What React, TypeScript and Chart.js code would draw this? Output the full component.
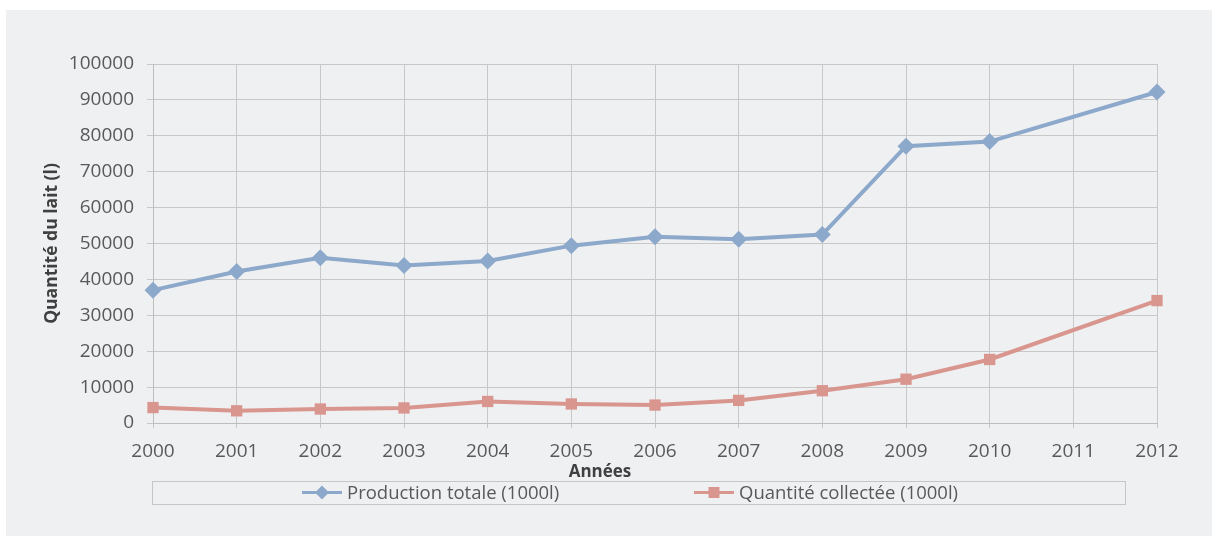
import React, { useEffect, useRef } from "react";
import { Chart, registerables } from "chart.js";

Chart.register(...registerables);

const years = ["2000", "2001", "2002", "2003", "2004", "2005", "2006", "2007", "2008", "2009", "2010", "2011", "2012"];
const productionTotale = [37000, 42200, 46000, 43900, 45100, 49400, 51900, 51200, 52500, 77100, 78400, null, 92200];
const quantiteCollectee = [4300, 3400, 3900, 4200, 6000, 5300, 5000, 6300, 9000, 12200, 17700, null, 34100];
const seriesNames = ["Production totale (1000l)", "Quantité collectée (1000l)"];
const yTitle = "Quantité du lait (l)";
const xTitle = "Années";

const BLUE = "#8ca8ca";
const RED = "#d9968e";
const FONT = "'Open Sans', 'Noto Sans', sans-serif";

const legendBoxPlugin = {
  id: "legendBox",
  afterDraw(chart: any, _args: any, opts: any) {
    const ctx = chart.ctx as CanvasRenderingContext2D;
    const { left, right, top, bottom, itemX, titleX, titleY } = opts;
    ctx.save();
    // x-axis title
    ctx.fillStyle = "#404040";
    ctx.font = `bold 17px ${FONT}`;
    ctx.textAlign = "center";
    ctx.textBaseline = "middle";
    ctx.fillText(xTitle, titleX, titleY);
    // legend box
    ctx.strokeStyle = "#c6c6c6";
    ctx.lineWidth = 1;
    ctx.strokeRect(left + 0.5, top + 0.5, right - left, bottom - top);
    const cy = (top + bottom) / 2;
    chart.data.datasets.forEach((ds: any, i: number) => {
      const x = itemX[i];
      ctx.strokeStyle = ds.borderColor;
      ctx.lineWidth = 3;
      ctx.beginPath();
      ctx.moveTo(x, cy);
      ctx.lineTo(x + 40, cy);
      ctx.stroke();
      ctx.fillStyle = ds.pointBackgroundColor;
      const mx = x + 20;
      if (ds.pointStyle === "rectRot") {
        const r = 7;
        ctx.beginPath();
        ctx.moveTo(mx, cy - r);
        ctx.lineTo(mx + r, cy);
        ctx.lineTo(mx, cy + r);
        ctx.lineTo(mx - r, cy);
        ctx.closePath();
        ctx.fill();
      } else {
        const s = 5.5;
        ctx.fillRect(mx - s, cy - s, 2 * s, 2 * s);
      }
      ctx.fillStyle = "#595959";
      ctx.font = `18.5px ${FONT}`;
      ctx.textBaseline = "middle";
      ctx.textAlign = "left";
      ctx.fillText(ds.label, x + 45, cy + 1);
    });
    ctx.restore();
  },
};

export default function App() {
  const canvasRef = useRef<HTMLCanvasElement | null>(null);

  useEffect(() => {
    if (!canvasRef.current) return;
    const chart = new Chart(canvasRef.current, {
      type: "line",
      data: {
        labels: years,
        datasets: [
          {
            label: seriesNames[0],
            data: productionTotale,
            borderColor: BLUE,
            backgroundColor: BLUE,
            pointBackgroundColor: BLUE,
            pointBorderColor: BLUE,
            pointStyle: "rectRot",
            pointRadius: 8.5,
            pointBorderWidth: 0,
            borderWidth: 4,
            tension: 0,
            spanGaps: true,
          },
          {
            label: seriesNames[1],
            data: quantiteCollectee,
            borderColor: RED,
            backgroundColor: RED,
            pointBackgroundColor: RED,
            pointBorderColor: RED,
            pointStyle: "rect",
            pointRadius: 8,
            pointBorderWidth: 0,
            borderWidth: 4,
            tension: 0,
            spanGaps: true,
          },
        ],
      },
      options: {
        responsive: false,
        animation: false,
        layout: { padding: { left: 40, right: 63, top: 64, bottom: 63 } },
        plugins: {
          legend: { display: false },
          tooltip: { enabled: false },
          legendBox: { left: 152, right: 1125, top: 481, bottom: 504, itemX: [302, 694], titleX: 600, titleY: 472 },
        } as any,
        scales: {
          x: {
            type: "category",
            offset: false,
            grid: { color: "#c8c8c8", lineWidth: 1, tickLength: 5 },
            border: { color: "#bdbdbd" },
            ticks: { color: "#595959", font: { family: FONT, size: 19 }, padding: 12, maxRotation: 0, autoSkip: false },
            title: { display: false },
            afterFit: (scale: any) => {
              scale.height = 58;
            },
          },
          y: {
            min: 0,
            max: 100000,
            grid: { color: "#c8c8c8", lineWidth: 1, tickLength: 6 },
            border: { color: "#bdbdbd" },
            ticks: {
              stepSize: 10000,
              color: "#595959",
              font: { family: FONT, size: 19 },
              padding: 13,
              callback: (v: any) => String(v),
            },
            title: { display: true, text: yTitle, color: "#404040", font: { family: FONT, size: 17.5, weight: "bold" }, padding: { top: 2, bottom: 0 } },
            afterFit: (scale: any) => {
              scale.width = 113;
            },
          },
        },
      },
      plugins: [legendBoxPlugin],
    });
    return () => chart.destroy();
  }, []);

  return (
    <div style={{ position: "fixed", left: 0, top: 0, width: 1220, height: 544, background: "#ffffff" }}>
      <div style={{ position: "absolute", left: 6, top: 10, width: 1206, height: 526, background: "#eff0f2" }} />
      <canvas ref={canvasRef} width={1220} height={544} style={{ position: "absolute", left: 0, top: 0, width: 1220, height: 544 }} />
    </div>
  );
}
